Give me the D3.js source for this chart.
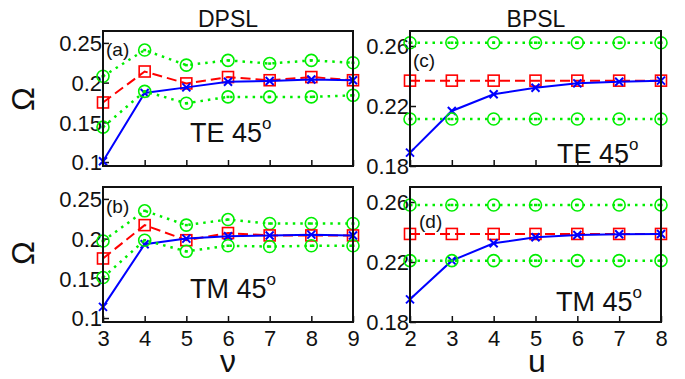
<!DOCTYPE html>
<html><head><meta charset="utf-8">
<script src="https://cdn.jsdelivr.net/npm/d3@7"></script>
<style>body{margin:0;background:#fff}svg{display:block}text{font-family:"Liberation Sans",Arial,sans-serif;fill:#111}</style>
</head><body><svg id="c" width="685" height="379"></svg>
<script>
// ---- data ----
const nuValues = [3, 4, 5, 6, 7, 8, 9];
const uValues = [2, 3, 4, 5, 6, 7, 8];
const leftYTicks = [0.1, 0.15, 0.2, 0.25];
const rightYTicks = [0.18, 0.22, 0.26];
const leftYTickLabels = ["0.1", "0.15", "0.2", "0.25"];
const rightYTickLabels = ["0.18", "0.22", "0.26"];

// (a) DPSL TE 45
const aUpper = [0.208, 0.241, 0.222, 0.228, 0.224, 0.228, 0.225];
const aRed   = [0.175, 0.214, 0.199, 0.207, 0.203, 0.207, 0.203];
const aBlue  = [0.101, 0.187, 0.194, 0.201, 0.202, 0.204, 0.203];
const aLower = [0.144, 0.189, 0.174, 0.182, 0.182, 0.182, 0.184];
// (b) DPSL TM 45
const bUpper = [0.197, 0.235, 0.217, 0.224, 0.219, 0.219, 0.219];
const bRed   = [0.175, 0.217, 0.198, 0.207, 0.204, 0.204, 0.204];
const bBlue  = [0.114, 0.193, 0.200, 0.203, 0.204, 0.205, 0.204];
const bLower = [0.151, 0.198, 0.184, 0.191, 0.190, 0.191, 0.191];
// (c) BPSL TE 45
const cUpper = [0.2622, 0.2622, 0.2622, 0.2622, 0.2622, 0.2622, 0.2622];
const cRed   = [0.2369, 0.2369, 0.2369, 0.2369, 0.2369, 0.2369, 0.2369];
const cBlue  = [0.1889, 0.2167, 0.2278, 0.2322, 0.2351, 0.2362, 0.2369];
const cLower = [0.2113, 0.2113, 0.2113, 0.2113, 0.2113, 0.2113, 0.2113];
// (d) BPSL TM 45
const dUpper = [0.258, 0.258, 0.258, 0.258, 0.258, 0.258, 0.258];
const dRed   = [0.2387, 0.2387, 0.2387, 0.2387, 0.2387, 0.2387, 0.2387];
const dBlue  = [0.1951, 0.2209, 0.2325, 0.2365, 0.2380, 0.2385, 0.2387];
const dLower = [0.2209, 0.2209, 0.2209, 0.2209, 0.2209, 0.2209, 0.2209];

const svg = d3.select("#c");
const GREEN = "#00ee00", RED = "#ff0000", BLUE = "#0000ff";

const panels = [
  {x:nuValues, xd:[3,9], yd:[0.095,0.265], yt:leftYTicks, ytl:leftYTickLabels, L:103, R:353, T:31, B:166,
   s:[aUpper,aRed,aBlue,aLower], tag:"(a)", tagX:106, tagY:56, mode:"TE", mX:190, mY:142, xlab:false},
  {x:nuValues, xd:[3,9], yd:[0.095,0.265], yt:leftYTicks, ytl:leftYTickLabels, L:103, R:353, T:187, B:322,
   s:[bUpper,bRed,bBlue,bLower], tag:"(b)", tagX:106, tagY:213, mode:"TM", mX:190, mY:298, xlab:true},
  {x:uValues, xd:[2,8], yd:[0.18,0.27], yt:rightYTicks, ytl:rightYTickLabels, L:410, R:661, T:31, B:166,
   s:[cUpper,cRed,cBlue,cLower], tag:"(c)", tagX:413, tagY:67, mode:"TE", mX:557, mY:163, xlab:false},
  {x:uValues, xd:[2,8], yd:[0.18,0.27], yt:rightYTicks, ytl:rightYTickLabels, L:410, R:661, T:187, B:322,
   s:[dUpper,dRed,dBlue,dLower], tag:"(d)", tagX:419, tagY:228, mode:"TM", mX:556, mY:311, xlab:true}
];

panels.forEach(p => {
  const x = d3.scaleLinear().domain(p.xd).range([p.L, p.R]);
  const y = d3.scaleLinear().domain(p.yd).range([p.B, p.T]);
  const g = svg.append("g");

  const xa = d3.axisBottom(x).tickValues(p.x).tickSize(-6).tickPadding(12)
      .tickFormat(p.xlab ? d3.format("d") : () => "");
  const gx = g.append("g").attr("transform", `translate(0,${p.B})`).call(xa);
  const ya = d3.axisLeft(y).tickValues(p.yt).tickSize(-6).tickPadding(3)
      .tickFormat((d,i) => p.ytl[i]);
  const gy = g.append("g").attr("transform", `translate(${p.L},0)`).call(ya);
  [gx, gy].forEach(a => {
    a.select(".domain").remove();
    a.selectAll(".tick line").attr("stroke", "#111").attr("stroke-width", 1.5);
    a.selectAll(".tick text").attr("font-size", 22).attr("fill", "#111")
      .style("font-family", "'Liberation Sans',Arial,sans-serif");
  });
  gy.selectAll(".tick text").attr("dy", "0.36em").attr("x", -1);
  gx.selectAll(".tick text").attr("dy", "0.71em").attr("y", 8);

  const line = d3.line().x((d,i) => x(p.x[i])).y(d => y(d));
  const styles = [
    {c:GREEN, dash:"2.5,5", w:2.5, m:"circle"},
    {c:RED, dash:"10,5", w:2, m:"square"},
    {c:BLUE, dash:null, w:2, m:"x"},
    {c:GREEN, dash:"2.5,5", w:2.5, m:"circle"}
  ];
  p.s.forEach((vals, k) => {
    const st = styles[k];
    g.append("path").datum(vals).attr("d", line).attr("fill", "none")
      .attr("stroke", st.c).attr("stroke-width", st.w)
      .attr("stroke-dasharray", st.dash).attr("stroke-linecap", "butt");
    const mk = g.append("g").attr("stroke", st.c).attr("fill", "none").attr("stroke-width", 1.6);
    vals.forEach((v, i) => {
      const cx = x(p.x[i]), cy = y(v);
      if (st.m === "circle") {
        mk.append("circle").attr("cx", cx).attr("cy", cy).attr("r", 6);
        mk.append("line").attr("x1", cx - 1.5).attr("x2", cx + 1.5).attr("y1", cy).attr("y2", cy).attr("stroke-width", 2.5);
      } else if (st.m === "square") {
        mk.append("rect").attr("x", cx - 5.5).attr("y", cy - 5.5).attr("width", 11).attr("height", 11);
      } else {
        mk.append("path").attr("d", `M${cx-4},${cy-4}L${cx+4},${cy+4}M${cx-4},${cy+4}L${cx+4},${cy-4}`).attr("stroke-width", 2);
      }
    });
  });

  g.append("rect").attr("x", p.L).attr("y", p.T).attr("width", p.R - p.L).attr("height", p.B - p.T)
    .attr("fill", "none").attr("stroke", "#111").attr("stroke-width", 2);

  g.append("text").attr("x", p.tagX).attr("y", p.tagY).attr("font-size", 19).text(p.tag);
  const t = g.append("text").attr("x", p.mX).attr("y", p.mY).attr("font-size", 27);
  t.append("tspan").text(p.mode + " 45");
  t.append("tspan").attr("font-size", 17).attr("dy", -13).text("o");
});

svg.append("text").attr("x", 228).attr("y", 27).attr("text-anchor", "middle").attr("font-size", 23).text("DPSL");
svg.append("text").attr("x", 536).attr("y", 27).attr("text-anchor", "middle").attr("font-size", 23).text("BPSL");
[99, 253].forEach(cy => {
  svg.append("text").attr("transform", `translate(34,${cy}) rotate(-90)`).attr("text-anchor", "middle")
    .attr("font-size", 32).text("Ω");
});
svg.append("text").attr("x", 228).attr("y", 372).attr("text-anchor", "middle").attr("font-size", 32).text("ν");
svg.append("text").attr("x", 537).attr("y", 372).attr("text-anchor", "middle").attr("font-size", 32).text("u");
</script></body></html>
